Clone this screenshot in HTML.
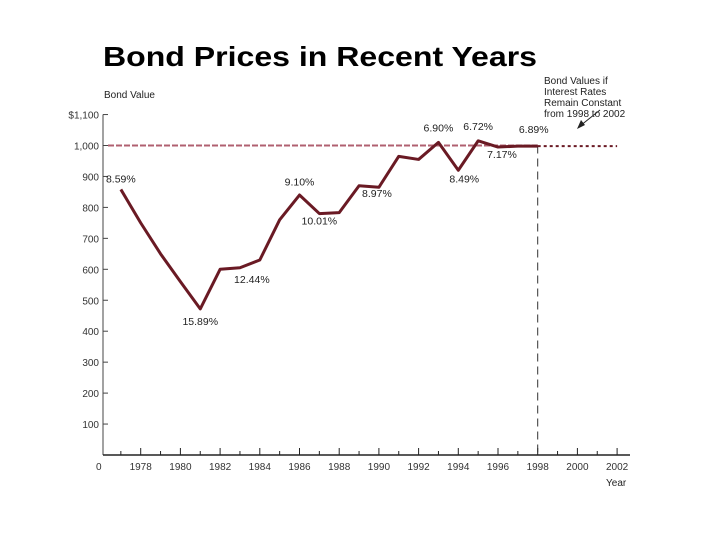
<!DOCTYPE html>
<html><head><meta charset="utf-8"><style>
body{margin:0;background:#fff;}
svg{display:block;font-family:"Liberation Sans",Arial,sans-serif;}
</style></head><body>
<svg id="chart" width="720" height="540" viewBox="0 0 720 540">
<text x="103" y="66" font-size="28" font-weight="bold" textLength="434" lengthAdjust="spacingAndGlyphs">Bond Prices in Recent Years</text>
<text x="104" y="98" font-size="10" fill="#222">Bond Value</text>
<g font-size="10" fill="#222">
<text x="544" y="84">Bond Values if</text>
<text x="544" y="95">Interest Rates</text>
<text x="544" y="106">Remain Constant</text>
<text x="544" y="117">from 1998 to 2002</text>
</g>
<line x1="600" y1="110" x2="580" y2="126" stroke="#222" stroke-width="1"/>
<polygon points="577,129 581,120 585,125" fill="#222"/>
<text x="606" y="486" font-size="10" fill="#222">Year</text>
<g id="axes"></g>
<g id="marks"></g>
</svg>
<script>
const years=[1977,1978,1979,1980,1981,1982,1983,1984,1985,1986,1987,1988,1989,1990,1991,1992,1993,1994,1995,1996,1997,1998];
const values=[858,750,650,560,472,600,605,630,760,840,780,783,870,865,965,955,1010,920,1015,995,998,998];
const projYears=[1998,2002];
const projValues=[998,998];
const yTicks=[0,100,200,300,400,500,600,700,800,900,1000,1100];
const yTickLabels=["0","100","200","300","400","500","600","700","800","900","1,000","$1,100"];
const xTicks=[1978,1980,1982,1984,1986,1988,1990,1992,1994,1996,1998,2000,2002];
const annYears=[1977,1981,1983.6,1986,1987,1989.9,1993,1994.3,1995,1996.2,1997.8];
const annValues=[880,420,555,870,745,834,1045,880,1050,960,1040];
const annLabels=["8.59%","15.89%","12.44%","9.10%","10.01%","8.97%","6.90%","8.49%","6.72%","7.17%","6.89%"];
const ns="http://www.w3.org/2000/svg";
function X(yr){return 101+(yr-1976)*19.85;}
function Y(v){return 455-v*0.3095;}
function mk(t,a,p){const e=document.createElementNS(ns,t);for(const k in a)e.setAttribute(k,a[k]);p.appendChild(e);return e;}
const axes=document.getElementById('axes'),marks=document.getElementById('marks');
let e=mk('line',{x1:103,y1:Y(1100),x2:103,y2:Y(0),stroke:'#444','stroke-width':1},axes);


e=mk('line',{x1:103,y1:Y(0),x2:630,y2:Y(0),stroke:'#222','stroke-width':1.5},axes);


yTicks.forEach((v,i)=>{
 if(v>0){const t=mk('line',{x1:103,y1:Y(v),x2:108,y2:Y(v),stroke:'#444'},axes);
 
 }
 const l=mk('text',{x:v===0?96:99,y:v===0?Y(v)+15:Y(v)+4,'font-size':10,fill:'#333','text-anchor':v===0?'start':'end'},axes);
 l.textContent=yTickLabels[i];
 
 
});
for(let yr=1977;yr<=2002;yr++){
 const major=xTicks.includes(yr);
 const t=mk('line',{x1:X(yr),y1:Y(0),x2:X(yr),y2:Y(0)-(major?7:4),stroke:'#222'},axes);
 
 
}
xTicks.forEach(yr=>{
 const l=mk('text',{x:X(yr),y:Y(0)+15,'font-size':10,fill:'#333','text-anchor':'middle'},axes);
 l.textContent=String(yr);
 
 
});
e=mk('line',{x1:108,y1:Y(1000),x2:X(1998),y2:Y(1000),stroke:'#b06070','stroke-width':2,'stroke-dasharray':'6,2'},marks);


e=mk('line',{x1:X(1998),y1:Y(1000),x2:X(1998),y2:Y(0),stroke:'#333','stroke-width':1,'stroke-dasharray':'8,5'},marks);


e=mk('polyline',{points:projYears.map((y,i)=>X(y)+','+Y(projValues[i])).join(' '),fill:'none',stroke:'#6a1a24','stroke-width':2,'stroke-dasharray':'3,3'},marks);


e=mk('polyline',{points:years.map((y,i)=>X(y)+','+Y(values[i])).join(' '),fill:'none',stroke:'#6a1a24','stroke-width':3,'stroke-linejoin':'round'},marks);


annLabels.forEach((s,i)=>{
 const l=mk('text',{x:X(annYears[i]),y:Y(annValues[i]),'font-size':10.5,fill:'#222','text-anchor':'middle'},marks);
 l.textContent=s;
 
 
});
</script>
</body></html>
